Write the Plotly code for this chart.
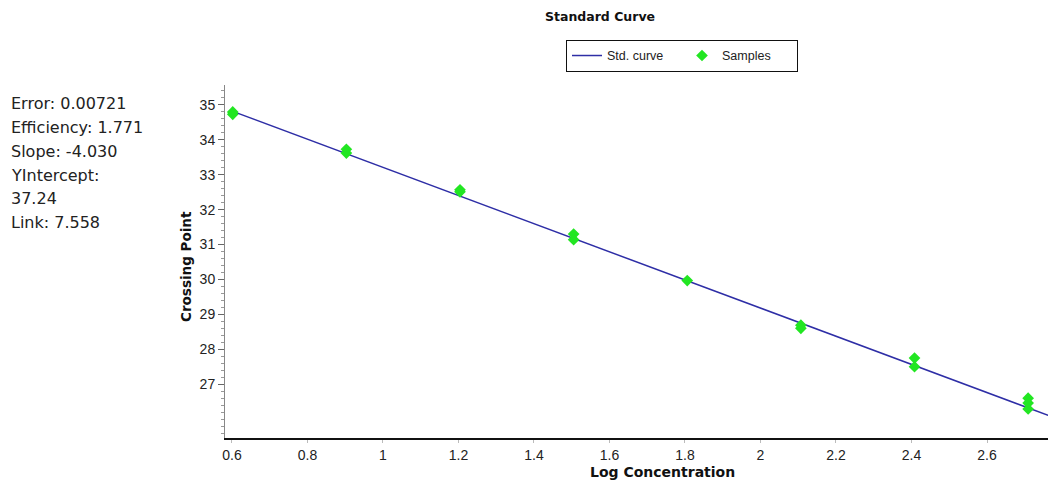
import plotly.graph_objects as go

# Data
sample_log_conc = [0.602, 0.602, 0.903, 0.903, 1.204, 1.204, 1.505, 1.505,
                   1.806, 2.107, 2.107, 2.408, 2.408, 2.709, 2.709, 2.709]
sample_cp = [34.80, 34.73, 33.73, 33.62, 32.57, 32.51, 31.30, 31.14,
             29.97, 28.69, 28.60, 27.75, 27.50, 26.60, 26.46, 26.29]
slope = -4.030
y_intercept = 37.24
curve_x = [0.602, 2.762]
curve_y = [y_intercept + slope * x for x in curve_x]

stats_lines = ["Error: 0.00721", "Efficiency: 1.771", "Slope: -4.030",
               "YIntercept:", "37.24", "Link: 7.558"]
y_ticks = [27, 28, 29, 30, 31, 32, 33, 34, 35]
x_ticks = [0.6, 0.8, 1, 1.2, 1.4, 1.6, 1.8, 2, 2.2, 2.4, 2.6]

PL, PT, PW, PH = 225, 85, 823, 353

fig = go.Figure()
fig.add_trace(go.Scatter(x=curve_x, y=curve_y, mode="lines", name="Std. curve",
                         line=dict(color="#2e2ea6", width=1.5)))
fig.add_trace(go.Scatter(x=sample_log_conc, y=sample_cp, mode="markers", name="Samples",
                         marker=dict(symbol="diamond", size=9, color="#22e622",
                                     line=dict(width=0))))

bold_font = "DejaVu Sans, Verdana, sans-serif"
fig.update_layout(
    width=1048, height=486,
    margin=dict(l=PL, r=0, t=PT, b=486 - PT - PH),
    paper_bgcolor="white", plot_bgcolor="white",
    font=dict(family="Liberation Sans, Arial, sans-serif", size=13, color="#222"),
    title=dict(text="<b>Standard Curve</b>", x=600 / 1048, xanchor="center",
               y=0.965, yanchor="middle",
               font=dict(family=bold_font, size=12.5, color="#111")),
    showlegend=True,
    legend=dict(orientation="h", x=(682 - PL) / PW, xanchor="center", y=0.885,
                yref="container", yanchor="middle", bordercolor="#111", borderwidth=1,
                font=dict(size=12.5, color="#222"), bgcolor="white",
                itemwidth=30, tracegroupgap=0, entrywidth=70, entrywidthmode="pixels"),
    xaxis=dict(range=[0.5815, 2.7616], tickvals=x_ticks, showgrid=False,
               zeroline=False, showline=True, linecolor="#111", linewidth=2,
               ticks="outside", ticklen=3, tickcolor="#bbb",
               tickfont=dict(size=14, color="#222")),
    yaxis=dict(range=[25.46, 35.57], tickvals=y_ticks, showgrid=False,
               zeroline=False, showline=True, linecolor="#888", linewidth=1,
               ticks="outside", ticklen=6, tickcolor="#666",
               minor=dict(dtick=0.2, tick0=25, ticklen=3, tickcolor="#999", ticks="outside"),
               tickfont=dict(size=14, color="#222")),
)

# axis titles
fig.add_annotation(text="<b>Log Concentration</b>", xref="paper", yref="paper",
                   x=(662 - PL) / PW, y=1 - (472 - PT) / PH, xanchor="center",
                   yanchor="middle", showarrow=False,
                   font=dict(family=bold_font, size=14, color="#111"))
fig.add_annotation(text="<b>Crossing Point</b>", xref="paper", yref="paper",
                   x=(186 - PL) / PW, y=1 - (267 - PT) / PH, xanchor="center",
                   yanchor="middle", showarrow=False, textangle=-90,
                   font=dict(family=bold_font, size=13.5, color="#111"))

line_y0, line_gap = 104, 23.7
for i, txt in enumerate(stats_lines):
    py = line_y0 + i * line_gap
    fig.add_annotation(text=txt, xref="paper", yref="paper",
                       x=(9 - PL) / PW, y=1 - (py - PT) / PH,
                       xanchor="left", yanchor="middle",
                       align="left", showarrow=False,
                       font=dict(family="DejaVu Sans, sans-serif", size=16, color="#222"))

fig.write_html("out.html")
